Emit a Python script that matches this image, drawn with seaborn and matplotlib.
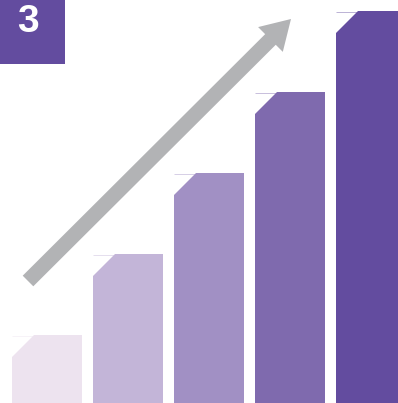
import matplotlib
matplotlib.use("Agg")
import matplotlib.pyplot as plt
from matplotlib.patches import Polygon, Rectangle, FancyArrow
import seaborn as sns
import pandas as pd

# bar data (heights in pixel-like units)
steps = ["1", "2", "3", "4", "5"]
heights = [68, 149, 230, 311, 392]
bar_colors = ["#ede3ef", "#c3b5d8", "#a190c4", "#7f6aae", "#634c9f"]
badge_label = "3"

W, H = 398, 403
fig = plt.figure(figsize=(W / 100, H / 100), dpi=100)
ax = fig.add_axes([0, 0, 1, 1])

df = pd.DataFrame({"step": steps, "height": heights})
sns.barplot(data=df, x="step", y="height", hue="step", palette=bar_colors,
            width=70 / 81, legend=False, ax=ax, saturation=1)

# one category = 81 px, first bar centred at x=47 px
ax.set_xlim(-47 / 81, (W - 47) / 81)
ax.set_ylim(0, H)
ax.axis("off")

# cut corner on the top-left of every bar
px = 1 / 81
cut = 22
for p, c in zip(ax.patches, bar_colors):
    x0 = p.get_x()
    top = p.get_height()
    tri = Polygon([(x0, top), (x0 + cut * px, top), (x0, top - cut)],
                  closed=True, facecolor="white", edgecolor="none", zorder=3)
    ax.add_patch(tri)
    ax.plot([x0, x0 + cut * px], [top - 0.5, top - 0.5], color=c, lw=0.6,
            alpha=0.5, zorder=4, solid_capstyle="butt")

# overlay axes in pixel units for the arrow and the badge
ov = fig.add_axes([0, 0, 1, 1], zorder=5)
ov.set_xlim(0, W)
ov.set_ylim(H, 0)
ov.axis("off")
ov.patch.set_alpha(0)

# rising arrow
arr = FancyArrow(28, 281, 291 - 28, 19 - 281, width=15, head_width=35,
                 head_length=29, length_includes_head=True,
                 color="#b2b3b5", lw=0)
ov.add_patch(arr)

# number badge
ov.add_patch(Rectangle((0, 0), 65, 64, facecolor="#634c9f", edgecolor="none"))
ov.text(27.5, 22, badge_label, color="white", fontsize=28, fontweight="bold",
        family=["Liberation Sans", "DejaVu Sans"], ha="center", va="center")

fig.savefig("out.png", dpi=100)
